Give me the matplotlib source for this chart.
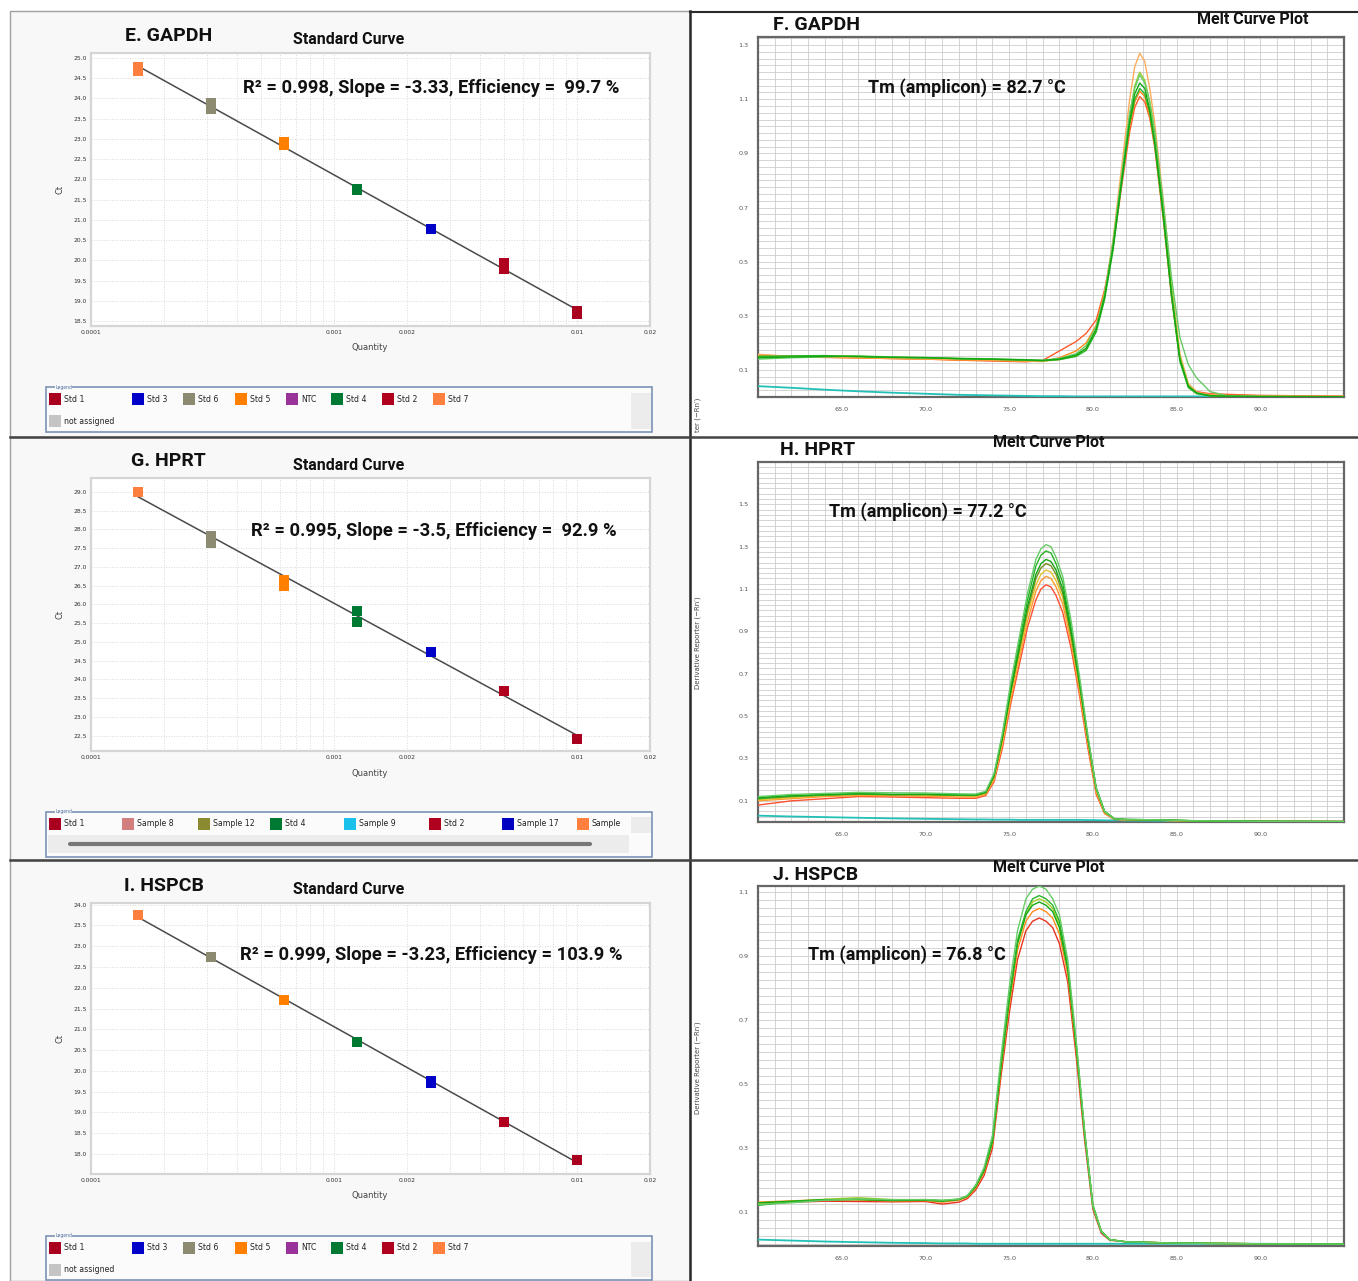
import numpy as np
import matplotlib
matplotlib.use("Agg")
import matplotlib.pyplot as plt
from matplotlib.patches import Rectangle
from matplotlib.ticker import (MultipleLocator, FixedLocator, LogLocator,
                               NullFormatter, FormatStrFormatter)

W, H = 1358, 1281

# ---- standard curves (2-fold dilution series) ----
quantity = [0.00015625, 0.0003125, 0.000625, 0.00125, 0.0025, 0.005, 0.01]
std_colors = ["#ff7f3f", "#8c8a70", "#ff8000", "#007a33", "#0000c8", "#b0001e", "#a8001e"]
ct_gapdh = [[24.77, 24.68], [23.88, 23.74], [22.93, 22.86], [21.77, 21.74],
            [20.77], [19.93, 19.78], [18.75, 18.68]]
ct_hprt = [[29.0], [27.83, 27.63], [26.64, 26.5], [25.83, 25.54],
           [24.73], [23.70], [22.41]]
ct_hspcb = [[23.74], [22.73], [21.70], [20.70], [19.76, 19.72], [18.78], [17.85]]

stats_gapdh = "R² = 0.998, Slope = -3.33, Efficiency =  99.7 %"
stats_hprt = "R² = 0.995, Slope = -3.5, Efficiency =  92.9 %"
stats_hspcb = "R² = 0.999, Slope = -3.23, Efficiency = 103.9 %"

qty_ticks = [0.0001, 0.001, 0.002, 0.01, 0.02]
qty_labels = ["0.0001", "0.001", "0.002", "0.01", "0.02"]

legend_std = [("Std 1", "#a8001e"), ("Std 3", "#0000c8"), ("Std 6", "#8c8a70"),
              ("Std 5", "#ff8000"), ("NTC", "#993399"), ("Std 4", "#007a33"),
              ("Std 2", "#b0001e"), ("Std 7", "#ff7f3f")]
legend_samples = [("Std 1", "#a8001e"), ("Sample 8", "#d47f7f"), ("Sample 12", "#8c8a30"),
                  ("Std 4", "#007a33"), ("Sample 9", "#18c0ea"), ("Std 2", "#b0001e"),
                  ("Sample 17", "#0000c0"), ("Sample", "#ff7f3f")]

# ---- melt curves ----
temps_f = [60, 62, 64, 66, 68, 70, 72, 74, 76, 77, 78, 79, 79.6, 80.2, 80.7, 81.2,
           81.7, 82.2, 82.5, 82.8, 83.1, 83.4, 83.7, 84.2, 84.7, 85.2, 85.7, 86.2, 87, 88, 90, 95]
gapdh_curves = [
    [.155, .150, .146, .145, .142, .140, .136, .133, .130, .135, .170, .205, .235, .285, .395,
     .550, .770, .980, 1.07, 1.11, 1.09, 1.03, .920, .660, .370, .140, .045, .020, .012, .010, .006, .003],
    [.152, .149, .147, .144, .142, .140, .137, .135, .132, .131, .145, .170, .200, .265, .390,
     .560, .790, 1.00, 1.09, 1.13, 1.11, 1.04, .930, .670, .380, .140, .040, .015, .008, .006, .004, .002],
    [.158, .150, .148, .146, .143, .141, .139, .137, .133, .132, .138, .152, .180, .250, .380,
     .580, .840, 1.10, 1.22, 1.27, 1.24, 1.14, 1.01, .730, .420, .160, .050, .018, .008, .004, .003, .002],
    [.150, .149, .152, .150, .147, .145, .142, .139, .137, .134, .139, .152, .178, .250, .370,
     .560, .800, 1.04, 1.15, 1.20, 1.17, 1.09, .970, .700, .400, .150, .045, .015, .005, .003, .002, .001],
    [.140, .145, .148, .152, .148, .144, .143, .141, .138, .136, .142, .160, .190, .260, .380,
     .570, .810, 1.05, 1.14, 1.19, 1.16, 1.09, .980, .720, .440, .220, .120, .070, .020, .005, .002, .001],
    [.150, .152, .153, .149, .147, .146, .141, .139, .136, .134, .138, .150, .172, .240, .360,
     .540, .780, 1.01, 1.10, 1.14, 1.12, 1.05, .930, .670, .370, .130, .035, .012, .004, .002, .001, .001],
    [.145, .148, .150, .150, .146, .145, .142, .140, .137, .135, .140, .155, .180, .250, .370,
     .550, .790, 1.02, 1.12, 1.16, 1.14, 1.06, .940, .680, .380, .140, .040, .015, .005, .003, .002, .001],
]
gapdh_colors = ["#ff5a2a", "#ff8c1a", "#ffad5c", "#9acd32", "#66cc66", "#28b428", "#13a813"]
ntc_f = [.040, .034, .027, .021, .016, .012, .008, .006, .004, .003, .003, .002, .002, .002, .002, .002,
         .002, .002, .002, .002, .002, .002, .002, .002, .002, .002, .002, .002, .002, .002, .002, .002]

temps_h = [60, 61, 62, 64, 66, 68, 70, 72, 73, 73.6, 74.1, 74.6, 75.1, 75.6, 76.1, 76.6,
           76.9, 77.2, 77.5, 77.8, 78.2, 78.7, 79.2, 79.7, 80.2, 80.7, 81.3, 82, 84, 86, 90, 95]
hprt_curves = [
    [.080, .090, .100, .110, .120, .118, .115, .112, .112, .125, .190, .350, .560, .740, .920,
     1.05, 1.10, 1.12, 1.11, 1.07, .990, .820, .600, .350, .130, .040, .012, .010, .008, .005, .003, .002],
    [.100, .105, .110, .120, .125, .124, .122, .118, .118, .130, .200, .370, .580, .770, .950,
     1.09, 1.14, 1.16, 1.15, 1.11, 1.03, .850, .620, .370, .140, .040, .013, .010, .008, .005, .003, .002],
    [.105, .110, .115, .125, .130, .128, .127, .124, .122, .135, .210, .380, .600, .790, .980,
     1.12, 1.17, 1.19, 1.18, 1.14, 1.06, .870, .640, .380, .150, .045, .014, .010, .008, .005, .003, .002],
    [.110, .115, .120, .127, .131, .129, .129, .126, .125, .138, .215, .395, .615, .810, 1.00,
     1.15, 1.20, 1.22, 1.21, 1.17, 1.08, .880, .650, .390, .155, .048, .015, .011, .009, .006, .003, .002],
    [.110, .118, .122, .128, .132, .130, .130, .127, .126, .140, .220, .410, .640, .850, 1.05,
     1.21, 1.26, 1.28, 1.27, 1.22, 1.13, .920, .670, .400, .160, .050, .015, .012, .010, .006, .003, .002],
    [.115, .120, .125, .130, .135, .130, .132, .128, .128, .140, .220, .400, .620, .820, 1.02,
     1.17, 1.22, 1.24, 1.23, 1.19, 1.10, .900, .660, .400, .160, .050, .015, .012, .010, .006, .003, .002],
    [.120, .125, .130, .135, .140, .138, .137, .133, .132, .145, .230, .420, .660, .870, 1.08,
     1.24, 1.29, 1.31, 1.30, 1.25, 1.16, .950, .690, .410, .160, .050, .015, .012, .010, .006, .003, .002],
]
hprt_colors = ["#ff5030", "#ff9a30", "#e6c229", "#7a8a22", "#28b428", "#13a813", "#66cc66"]
ntc_h = [.030, .028, .026, .023, .020, .017, .015, .013, .012, .012, .011, .011, .011, .010, .010, .010,
         .010, .010, .010, .010, .010, .010, .010, .009, .009, .008, .008, .007, .006, .004, .002, .001]

temps_j = [60, 62, 64, 66, 68, 70, 71, 72, 72.5, 73, 73.5, 74, 74.5, 75, 75.5, 76, 76.4, 76.8,
           77.2, 77.6, 78, 78.5, 79, 79.5, 80, 80.5, 81, 82, 85, 90, 95]
hspcb_curves = [
    [.128, .132, .135, .134, .133, .134, .126, .132, .143, .170, .215, .300, .520, .720, .890, .980,
     1.01, 1.02, 1.01, .990, .940, .820, .590, .330, .110, .035, .013, .008, .004, .002, .001],
    [.132, .136, .140, .139, .136, .137, .132, .138, .148, .176, .225, .315, .540, .745, .920, 1.01,
     1.04, 1.05, 1.04, 1.02, .970, .845, .610, .345, .118, .040, .015, .008, .004, .002, .001],
    [.127, .134, .141, .146, .140, .139, .136, .141, .151, .182, .232, .322, .552, .762, .942, 1.03,
     1.07, 1.08, 1.07, 1.05, 1.00, .868, .626, .354, .122, .042, .015, .008, .004, .002, .001],
    [.130, .135, .140, .140, .137, .138, .135, .140, .150, .180, .230, .320, .550, .760, .940, 1.03,
     1.06, 1.07, 1.06, 1.04, .990, .860, .620, .350, .120, .040, .015, .008, .004, .002, .001],
    [.122, .133, .139, .141, .139, .140, .137, .141, .152, .184, .234, .326, .558, .770, .950, 1.04,
     1.08, 1.09, 1.08, 1.06, 1.01, .872, .630, .356, .124, .042, .015, .008, .004, .002, .001],
    [.125, .130, .138, .142, .140, .140, .138, .142, .152, .185, .240, .340, .580, .800, .980, 1.08,
     1.11, 1.12, 1.11, 1.08, 1.03, .890, .640, .360, .120, .040, .015, .008, .004, .002, .001],
]
hspcb_colors = ["#e8331f", "#ff8c1a", "#a8cf2a", "#13a813", "#28b428", "#66cc66"]
ntc_j = [.015, .012, .009, .007, .005, .004, .003, .003, .003, .002, .002, .002, .002, .002, .002, .002,
         .002, .002, .002, .002, .002, .002, .002, .002, .002, .002, .002, .002, .002, .002, .001]

TITLE_FONT = ["Roboto", "DejaVu Sans"]


def fbox(l, t, r, b):
    # pixel box -> figure fraction
    return [l / W, 1 - b / H, (r - l) / W, (b - t) / H]


fig = plt.figure(figsize=(W / 100, H / 100), dpi=100)
fig.patch.set_facecolor("white")

# full-figure canvas in pixel coordinates for panels, labels and legends
canvas = fig.add_axes([0, 0, 1, 1])
canvas.set_xlim(0, W)
canvas.set_ylim(H, 0)
canvas.axis("off")

for t, b in [(11, 437), (437, 860), (860, 1281)]:
    canvas.add_patch(Rectangle((10, t), 680, b - t, fc="#f8f8f8", ec="#a0a0a0", lw=1))
canvas.plot([690, 690], [11, 1281], color="#2a2a2a", lw=1.8)
canvas.plot([690, 1358], [12, 12], color="#2a2a2a", lw=1.5)
canvas.plot([10, 1358], [437, 437], color="#444444", lw=1.8)
canvas.plot([10, 1358], [860, 860], color="#444444", lw=1.8)


def std_panel(top, bottom, cts, ylim):
    ax = fig.add_axes(fbox(91, top, 650, bottom))
    ax.set_facecolor("white")
    ax.set_xscale("log")
    ax.set_xlim(1e-4, 2e-2)
    ax.set_ylim(*ylim)
    means = [np.mean(r) for r in cts]
    slope, icpt = np.polyfit(np.log10(quantity), means, 1)
    ends = np.array([quantity[0], quantity[-1]])
    ax.plot(ends, slope * np.log10(ends) + icpt, color="#4a4a4a", lw=1.1, zorder=2)
    for q, reps, c in zip(quantity, cts, std_colors):
        ax.plot([q] * len(reps), reps, "s", color=c, ms=6.5, mew=0, zorder=3)
    ax.xaxis.set_major_locator(FixedLocator(qty_ticks))
    ax.set_xticklabels(qty_labels)
    ax.xaxis.set_minor_locator(LogLocator(base=10, subs=range(2, 10)))
    ax.xaxis.set_minor_formatter(NullFormatter())
    ax.yaxis.set_major_locator(MultipleLocator(0.5))
    ax.yaxis.set_major_formatter(FormatStrFormatter("%.1f"))
    ax.grid(which="both", color="#d9d9d9", ls=":", lw=0.7)
    ax.tick_params(which="both", length=0, labelsize=4.3, colors="#333333", pad=3)
    for s in ax.spines.values():
        s.set_color("#d5d5d5")
        s.set_linewidth(1.6)
    canvas.text(60, (top + bottom) / 2, "Ct", rotation=90, fontsize=6, color="#444",
                ha="center", va="center")
    canvas.text(370, bottom + 22, "Quantity", fontsize=6, color="#444", ha="center", va="center")
    return ax


def melt_panel(top, bottom, temps, curves, colors, ntc, ylim, yticks):
    ax = fig.add_axes(fbox(758, top, 1344, bottom))
    ax.set_facecolor("white")
    ax.set_xlim(60, 95)
    ax.set_ylim(*ylim)
    ax.xaxis.set_major_locator(FixedLocator([65, 70, 75, 80, 85, 90]))
    ax.xaxis.set_major_formatter(FormatStrFormatter("%.1f"))
    ax.xaxis.set_minor_locator(MultipleLocator(1))
    ax.yaxis.set_major_locator(FixedLocator(yticks))
    ax.yaxis.set_major_formatter(FormatStrFormatter("%.1f"))
    ax.yaxis.set_minor_locator(MultipleLocator(0.025))
    ax.grid(which="both", color="#cdcdcd", lw=0.6)
    ax.tick_params(which="both", length=0, labelsize=4.6, colors="#555555", pad=7)
    for s in ax.spines.values():
        s.set_color("#666666")
        s.set_linewidth(1.6)
    ax.plot(temps, ntc, color="#22c0b6", lw=1.3, zorder=3)
    for vals, c in zip(curves, colors):
        ax.plot(temps, vals, color=c, lw=1.0, zorder=3)
    return ax


def legend_box(top, bottom, items, xs, row2=True, scroll=False):
    canvas.add_patch(Rectangle((46, top), 606, bottom - top, fc="#fbfbfb", ec="#7b93b5", lw=1.2))
    canvas.text(55, top, "Legend", fontsize=3.3, color="#4a6a9a", va="center",
                bbox=dict(fc="#fbfbfb", ec="none", pad=0.3))
    row = top + 12
    for (name, color), x in zip(items, xs):
        canvas.add_patch(Rectangle((x, row - 6), 12, 12, fc=color, ec="none"))
        canvas.text(x + 15, row, name, fontsize=5.6, color="#222", va="center")
    if row2:
        canvas.add_patch(Rectangle((49, row + 16), 12, 12, fc="#c4c4c4", ec="none"))
        canvas.text(64, row + 22, "not assigned", fontsize=5.6, color="#222", va="center")
        canvas.add_patch(Rectangle((631, top + 6), 20, bottom - top - 9, fc="#ececec", ec="none"))
    if scroll:
        canvas.add_patch(Rectangle((48, row + 11), 581, 18, fc="#ececec", ec="none"))
        canvas.plot([70, 590], [row + 20, row + 20], color="#777777", lw=3, solid_capstyle="round")
        canvas.add_patch(Rectangle((631, top + 5), 20, 16, fc="#ececec", ec="none"))


# standard curve panels
std_panel(53, 326, ct_gapdh, (18.38, 25.12))
std_panel(478, 751, ct_hprt, (22.09, 29.37))
std_panel(903, 1174, ct_hspcb, (17.52, 24.04))

legend_box(387, 432, legend_std, [49, 132, 183, 235, 286, 331, 382, 433])
legend_box(812, 857, legend_samples, [49, 122, 198, 270, 344, 429, 502, 577], row2=False, scroll=True)
legend_box(1236, 1280, legend_std, [49, 132, 183, 235, 286, 331, 382, 433])

# melt curve panels
melt_panel(37, 397, temps_f, gapdh_curves, gapdh_colors, ntc_f, (0, 1.33),
           [0.1, 0.3, 0.5, 0.7, 0.9, 1.1, 1.3])
melt_panel(462, 822, temps_h, hprt_curves, hprt_colors, ntc_h, (0, 1.70),
           [0.1, 0.3, 0.5, 0.7, 0.9, 1.1, 1.3, 1.5])
melt_panel(886, 1246, temps_j, hspcb_curves, hspcb_colors, ntc_j, (-0.005, 1.12),
           [0.1, 0.3, 0.5, 0.7, 0.9, 1.1])


# titles and annotations: figure-level text so it sits above the axes
def bold(x, y, s, size):
    fig.text(x / W, 1 - y / H, s, fontsize=size, fontweight="bold", family=TITLE_FONT,
             color="#111111", ha="left", va="center")


bold(125, 36, "E. GAPDH", 14)
bold(293, 40, "Standard Curve", 11.5)
bold(243, 88, stats_gapdh, 13.2)
bold(131, 461, "G. HPRT", 14)
bold(293, 466, "Standard Curve", 11.5)
bold(251, 531, stats_hprt, 13.2)
bold(124, 886, "I. HSPCB", 14)
bold(293, 889, "Standard Curve", 11.5)
bold(240, 955, stats_hspcb, 13.2)

bold(773, 25, "F. GAPDH", 14)
bold(1197, 19, "Melt Curve Plot", 11.5)
bold(868, 88, "Tm (amplicon) = 82.7 °C", 13)
bold(780, 450, "H. HPRT", 14)
bold(993, 443, "Melt Curve Plot", 11.5)
bold(829, 512, "Tm (amplicon) = 77.2 °C", 13)
bold(773, 875, "J. HSPCB", 14)
bold(993, 868, "Melt Curve Plot", 11.5)
bold(808, 955, "Tm (amplicon) = 76.8 °C", 13)

ylab = "Derivative Reporter (\u2212Rn\u2032)"
canvas.text(698, 432, "ter (\u2212Rn\u2032)", rotation=90, fontsize=5, color="#444",
            ha="center", va="bottom")
canvas.text(698, 643, ylab, rotation=90, fontsize=5, color="#444", ha="center", va="center")
canvas.text(698, 1068, ylab, rotation=90, fontsize=5, color="#444", ha="center", va="center")

fig.savefig("out.png", dpi=100, facecolor="white")
